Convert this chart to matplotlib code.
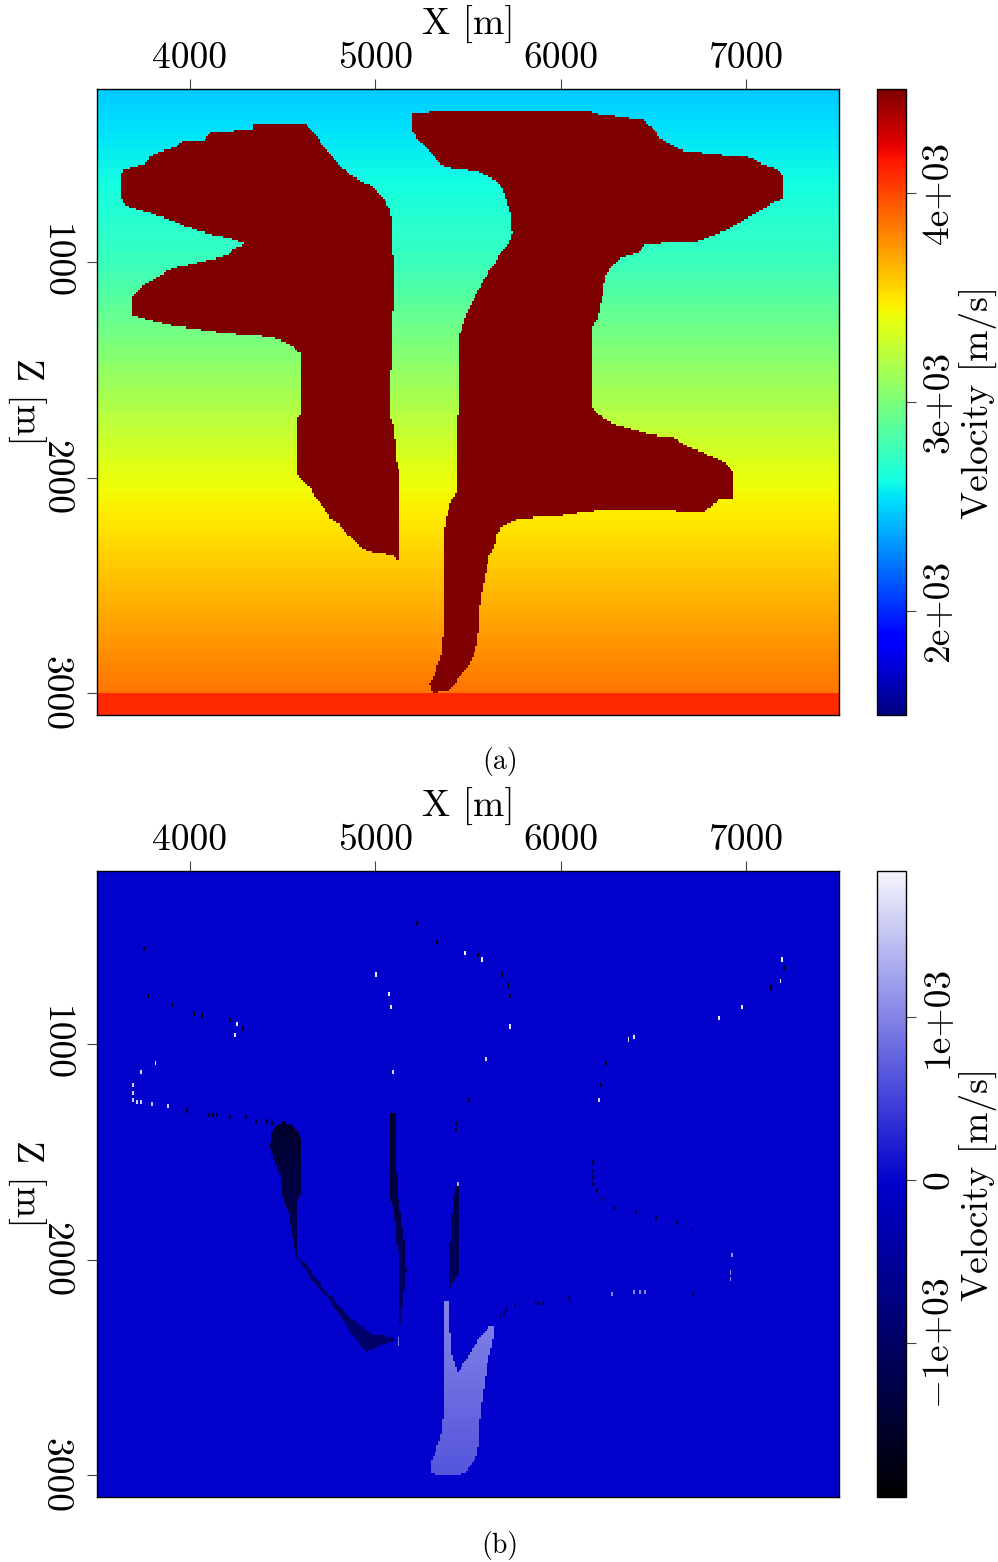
import numpy as np
import matplotlib
matplotlib.use("Agg")
import matplotlib.pyplot as plt
from matplotlib.path import Path
from matplotlib.colors import LinearSegmentedColormap
from matplotlib.ticker import FixedLocator, FuncFormatter

plt.rcParams['font.family'] = ['cmr10', 'DejaVu Serif']
plt.rcParams['mathtext.fontset'] = 'cm'
plt.rcParams['axes.formatter.use_mathtext'] = True
plt.rcParams['axes.unicode_minus'] = False

# ---------------- data ----------------
x_range = [3500, 7500]
z_range = [200, 3100]
x_ticks = [4000, 5000, 6000, 7000]
z_ticks = [1000, 2000, 3000]
vel_ticks = [2000, 3000, 4000]
diff_ticks = [-1000, 0, 1000]
vel_limits = [1500, 4500]

# background velocity (depth knots) and deep layer
bg_depth = [200, 1000, 2000, 3000]
bg_vel = [2470, 2760, 3400, 3860]
layer_top = 3000
layer_vel = 4100
salt_vel = 4500

# true salt body outlines (x, z in m)
salt_left_x = [4341, 4627, 4740, 4794, 4880, 4988, 5080, 5090, 5101, 5090, 5080, 5082, 5101,
               5112, 5133, 5128, 5085, 4983, 4918, 4880, 4832, 4805, 4751, 4724, 4686, 4659,
               4611, 4584, 4584, 4605, 4605, 4567, 4524, 4443, 4314, 4147, 3991, 3883, 3775,
               3694, 3694, 3732, 3786, 3829, 3883, 3931, 4039, 4109, 4201, 4244, 4298, 4233,
               4125, 4071, 3985, 3921, 3850, 3775, 3678, 3640, 3629, 3629, 3640, 3716, 3770,
               3786, 3840, 3921, 3969, 4082, 4109, 4244, 4336]
salt_left_z = [362, 362, 483, 543, 608, 654, 751, 839, 1131, 1317, 1687, 1724, 1766,
               1928, 1974, 2382, 2359, 2345, 2322, 2280, 2252, 2211, 2183, 2137, 2104, 2058,
               2012, 1988, 1720, 1701, 1432, 1400, 1377, 1349, 1340, 1326, 1307, 1293, 1270,
               1247, 1164, 1117, 1094, 1071, 1039, 1025, 1006, 992, 969, 937, 918, 895,
               876, 863, 839, 816, 793, 770, 747, 728, 682, 598, 575, 557, 543,
               510, 492, 469, 441, 436, 404, 395, 385]

salt_right_x = [5197, 5295, 5331, 6167, 6212, 6320, 6445, 6499, 6535, 6625, 6661, 6876, 7030,
                7074, 7155, 7197, 7197, 7146, 7074, 6984, 6876, 6822, 6733, 6463, 6409, 6320,
                6284, 6239, 6230, 6212, 6203, 6172, 6171, 6209, 6274, 6403, 6493, 6609, 6661,
                6751, 6841, 6893, 6931, 6931, 6867, 6816, 6777, 6725, 6287, 6145, 6028, 5861,
                5745, 5681, 5655, 5642, 5616, 5598, 5577, 5564, 5551, 5526, 5500, 5448, 5422,
                5384, 5306, 5294, 5319, 5340, 5363, 5371, 5371, 5384, 5409, 5443, 5447, 5466,
                5484, 5520, 5556, 5592, 5619, 5655, 5673, 5717, 5736, 5726, 5708, 5690, 5655,
                5609, 5556, 5484, 5385, 5349, 5313, 5277, 5241, 5214, 5197]
salt_right_z = [305, 305, 302, 305, 317, 328, 344, 382, 428, 475, 486, 506, 516,
                544, 567, 598, 711, 727, 761, 807, 861, 876, 907, 918, 961, 984,
                1015, 1062, 1147, 1193, 1255, 1301, 1672, 1710, 1749, 1780, 1803, 1811, 1849,
                1880, 1911, 1934, 1973, 2096, 2096, 2127, 2158, 2158, 2146, 2158, 2174, 2184,
                2197, 2228, 2258, 2320, 2359, 2428, 2521, 2598, 2768, 2830, 2876, 2923, 2969,
                2992, 2997, 2953, 2915, 2861, 2799, 2567, 2251, 2181, 2104, 2066, 1348, 1317,
                1262, 1193, 1131, 1070, 1039, 992, 961, 915, 869, 776, 714, 660, 629,
                606, 583, 572, 563, 544, 506, 467, 444, 413, 382]

# difference panel: zones with velocity too high (negative) / too low (positive)
neg_a_x = [4470, 4519, 4551, 4578, 4597, 4597, 4584, 4584, 4611, 4659, 4724, 4805, 4880, 4983,
           5085, 5112, 5026, 4958, 4918, 4880, 4805, 4675, 4573, 4557, 4535, 4508, 4492, 4465,
           4433, 4438]
neg_a_z = [1368, 1363, 1377, 1400, 1432, 1701, 1720, 1988, 2011, 2058, 2137, 2211, 2280, 2345,
           2359, 2373, 2396, 2428, 2396, 2359, 2248, 2109, 1988, 1910, 1784, 1724, 1632, 1562,
           1483, 1423]
neg_b_x = [5085, 5080, 5082, 5101, 5112, 5133, 5133, 5150, 5166, 5155, 5133, 5117, 5112, 5107]
neg_b_z = [1317, 1687, 1724, 1766, 1928, 1974, 2313, 2188, 2049, 1910, 1771, 1678, 1493, 1317]
neg_c_x = [5430, 5446, 5446, 5414, 5398, 5400, 5408, 5419]
neg_c_z = [1659, 1659, 2067, 2113, 2150, 2002, 1863, 1747]
pos_a_x = [5371, 5403, 5406, 5446, 5495, 5554, 5619, 5640, 5635, 5608, 5592, 5576, 5565, 5562,
           5549, 5522, 5489, 5457, 5398, 5306, 5295, 5311, 5333, 5355, 5365, 5371]
pos_a_z = [2188, 2188, 2419, 2526, 2456, 2373, 2303, 2313, 2373, 2466, 2558, 2651, 2744, 2836,
           2906, 2943, 2984, 2998, 3003, 2994, 2957, 2920, 2869, 2808, 2744, 2651]

# isolated edge cells
neg_dot_x = [3759, 5224, 5337, 5552, 5688, 5711, 5727, 5500, 5438, 5438, 3772, 3909, 4022, 4068,
             4218, 4288, 3986, 4105, 4125, 4143, 4211, 4301, 4352, 4416, 4442, 7203, 7138, 6240,
             6212, 6176, 6176, 6176, 6176, 6190, 6222, 6287, 6403, 6514, 6625, 6702, 6715, 6158,
             6045, 5861, 5882, 5904, 5753, 5707, 5690, 5675]
neg_dot_z = [551, 438, 524, 588, 676, 727, 776, 1252, 1365, 1390, 776, 813, 852, 862,
             887, 929, 1301, 1327, 1327, 1327, 1338, 1338, 1350, 1350, 1361, 643, 736, 1088,
             1188, 1540, 1580, 1610, 1645, 1678, 1710, 1752, 1778, 1802, 1826, 1866, 2154, 2168,
             2177, 2191, 2191, 2191, 2203, 2225, 2240, 2257]
pos_dot_x = [5487, 5577, 5724, 5000, 5074, 5085, 5097, 5598, 5448, 4254, 4247, 3811, 3733, 3699,
             3699, 3699, 3716, 3737, 3790, 3883, 7190, 7184, 6976, 6852, 6398, 6364, 6201, 6927,
             6913, 6913, 6390, 6421, 6454, 6274, 5121, 5121]
pos_dot_z = [577, 600, 913, 676, 764, 825, 1125, 1063, 1640, 901, 951, 1088, 1125, 1181,
             1229, 1252, 1261, 1261, 1276, 1289, 602, 705, 825, 875, 964, 975, 1252, 1979,
             2055, 2085, 2140, 2140, 2140, 2154, 2362, 2380]

# ---------------- build grids ----------------
dx = 10.0
dz = 10.0
xc = np.arange(x_range[0] + dx / 2, x_range[1], dx)
zc = np.arange(z_range[0] + dz / 2, z_range[1], dz)
XX, ZZ = np.meshgrid(xc, zc)
pts = np.column_stack([XX.ravel(), ZZ.ravel()])


def poly_mask(xs, zs):
    return Path(np.column_stack([xs, zs])).contains_points(pts).reshape(XX.shape)


bg_grad = np.interp(ZZ, bg_depth, bg_vel)
vel = np.where(ZZ >= layer_top, layer_vel, bg_grad)
salt = poly_mask(salt_left_x, salt_left_z) | poly_mask(salt_right_x, salt_right_z)
vel[salt] = salt_vel

contrast = salt_vel - bg_grad
diff = np.zeros_like(vel)
for xs, zs in [(neg_a_x, neg_a_z), (neg_b_x, neg_b_z), (neg_c_x, neg_c_z)]:
    m = poly_mask(xs, zs)
    diff[m] = -contrast[m]
m = poly_mask(pos_a_x, pos_a_z)
diff[m] = contrast[m]


def put_dots(xs, zs, sign):
    for x, z in zip(xs, zs):
        j = int((x - x_range[0]) // dx)
        i = int((z - z_range[0]) // dz)
        diff[i:i + 2, j] = sign * contrast[i, j]


put_dots(neg_dot_x, neg_dot_z, -1)
put_dots(pos_dot_x, pos_dot_z, 1)

# ---------------- figure ----------------
W, H = 998, 1562
fig = plt.figure(figsize=(W / 100, H / 100), dpi=100)

FS = 27


def fx(px):
    return px / W


def fy(py_top, py_bot):
    return 1 - py_bot / H, (py_bot - py_top) / H


def sci_fmt(v, p):
    if abs(v) < 1e-9:
        return '0'
    s = f'{abs(v):.0e}'
    return ('$-$' + s) if v < 0 else s


def setup_axes(ax):
    ax.set_xlim(x_range)
    ax.set_ylim(z_range[1], z_range[0])
    ax.xaxis.set_major_locator(FixedLocator(x_ticks))
    ax.yaxis.set_major_locator(FixedLocator(z_ticks))
    ax.xaxis.set_major_formatter(FuncFormatter(lambda v, p: f'{v:.0f}'))
    ax.yaxis.set_major_formatter(FuncFormatter(lambda v, p: f'{v:.0f}'))
    ax.xaxis.tick_top()
    ax.xaxis.set_label_position('top')
    ax.tick_params(axis='x', top=True, bottom=False, labeltop=True, labelbottom=False,
                   direction='out', length=7, width=0.8, color='#444444', labelsize=FS, pad=3)
    ax.tick_params(axis='y', left=True, right=False, direction='out', length=7, width=0.8,
                   color='#444444', labelsize=FS, pad=11, labelrotation=-90)
    for lbl in ax.get_yticklabels():
        lbl.set_va('center')
    ax.set_xlabel('X [m]', fontsize=FS, labelpad=5)
    ax.set_ylabel('Z [m]', fontsize=FS, rotation=-90, va='center', labelpad=9)
    for s in ax.spines.values():
        s.set_linewidth(1.0)


def setup_cbar(cb, ticks):
    cb.set_ticks(ticks)
    cb.ax.yaxis.set_major_formatter(FuncFormatter(sci_fmt))
    cb.ax.tick_params(direction='out', length=7, width=0.8, color='#444444', labelsize=FS,
                      pad=5, labelrotation=90)
    for lbl in cb.ax.get_yticklabels():
        lbl.set_va('center')
    cb.set_label('Velocity [m/s]', fontsize=FS, labelpad=2)
    cb.outline.set_linewidth(1.0)


extent = [x_range[0], x_range[1], z_range[1], z_range[0]]

# panel (a)
b0, h0 = fy(89, 715)
ax1 = fig.add_axes([fx(97), b0, fx(742), h0])
im1 = ax1.imshow(vel, cmap='jet', vmin=vel_limits[0], vmax=vel_limits[1], extent=extent,
                 aspect='auto', interpolation='nearest', origin='upper')
setup_axes(ax1)
cax1 = fig.add_axes([fx(877), b0, fx(29), h0])
cb1 = fig.colorbar(im1, cax=cax1)
setup_cbar(cb1, vel_ticks)
fig.text(0.501, 1 - 762 / H, '(a)', ha='center', va='center', fontsize=20)

# panel (b)
b1, h1 = fy(871, 1497)
ax2 = fig.add_axes([fx(97), b1, fx(742), h1])
cmap_b = LinearSegmentedColormap.from_list(
    'bw', [(0.0, (0, 0, 0)), (0.5, (0, 0, 0.8)), (1.0, (0.96, 0.96, 0.99))])
im2 = ax2.imshow(diff, cmap=cmap_b, vmin=diff.min(), vmax=diff.max(), extent=extent,
                 aspect='auto', interpolation='nearest', origin='upper')
setup_axes(ax2)
cax2 = fig.add_axes([fx(877), b1, fx(29), h1])
cb2 = fig.colorbar(im2, cax=cax2)
setup_cbar(cb2, diff_ticks)
fig.text(0.501, 1 - 1545 / H, '(b)', ha='center', va='center', fontsize=20)

fig.savefig('out.png', dpi=100)
